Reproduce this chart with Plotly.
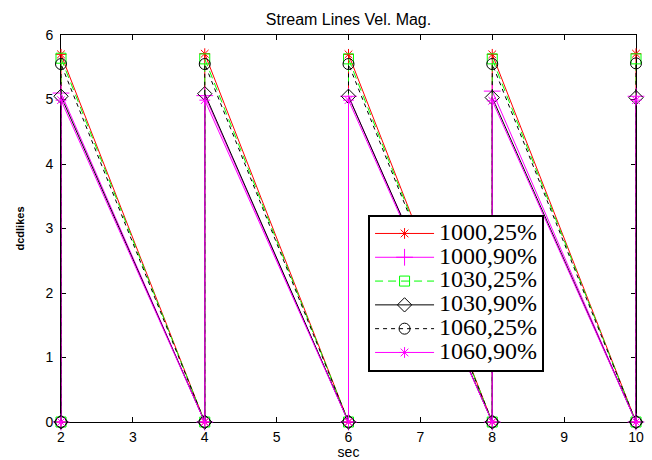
import plotly.graph_objects as go

# Sample times: each cycle drops back to zero and jumps to the peak value
times = [2, 2, 4, 4, 6, 6, 8, 8, 10, 10]

series_names = ["1000,25%", "1000,90%", "1030,25%", "1030,90%", "1060,25%", "1060,90%"]

# Peak value reached at t = 2, 4, 6, 8, 10 for each case
peaks_1000_25 = [5.70, 5.71, 5.70, 5.70, 5.71]
peaks_1000_90 = [5.10, 5.06, 5.05, 5.13, 5.05]
peaks_1030_25 = [5.64, 5.63, 5.63, 5.63, 5.63]
peaks_1030_90 = [5.05, 5.09, 5.05, 5.03, 5.03]
peaks_1060_25 = [5.55, 5.55, 5.55, 5.55, 5.56]
peaks_1060_90 = [4.99, 4.99, 4.99, 4.98, 4.99]

all_peaks = [peaks_1000_25, peaks_1000_90, peaks_1030_25,
             peaks_1030_90, peaks_1060_25, peaks_1060_90]

colors = ["#ff0000", "#ff00ff", "#00ff00", "#000000", "#000000", "#ff00ff"]
dashes = ["solid", "solid", "8px,5px", "solid", "4px,4px", "solid"]
symbols = ["asterisk-open", "cross-thin-open", "square-open",
           "diamond-open", "circle-open", "asterisk-open"]
marker_sizes = [9, 12, 10, 11, 11, 9]


def sawtooth(peaks):
    vals = []
    for p in peaks:
        vals.extend([0.0, p])
    return vals


fig = go.Figure()
for name, peaks, col, dash, sym, ms in zip(series_names, all_peaks, colors,
                                           dashes, symbols, marker_sizes):
    fig.add_trace(go.Scatter(
        x=times, y=sawtooth(peaks), name=f'<span style="font-size:24px">{name}</span>',
        mode="lines+markers",
        line=dict(color=col, width=1, dash=dash),
        marker=dict(symbol=sym, size=ms, color=col, line=dict(color=col, width=1)),
        cliponaxis=False,
    ))

axis_common = dict(
    showgrid=False, zeroline=False, showline=True, linecolor="black", linewidth=1,
    mirror="ticks", ticks="inside", ticklen=5, tickcolor="black", tickwidth=1,
    tickfont=dict(family="Liberation Sans", size=14, color="black"),
    layer="below traces", automargin=False,
)

fig.update_layout(
    width=652, height=460,
    paper_bgcolor="white", plot_bgcolor="white",
    margin=dict(l=61, r=16, t=35, b=38),
    title=dict(text="Stream Lines Vel. Mag.", x=0.5345, xanchor="center",
               y=0.958, yanchor="middle",
               font=dict(family="Liberation Sans", size=16, color="black")),
    xaxis=dict(range=[2, 10], dtick=1, tick0=2, ticklabelstandoff=2,
               title=dict(text="sec", standoff=3,
                          font=dict(family="Liberation Sans", size=14, color="black")),
               **axis_common),
    yaxis=dict(range=[0, 6], dtick=1, tick0=0, ticklabelstandoff=4,
               title=dict(text="<b>dcdlikes</b>", standoff=18,
                          font=dict(family="Liberation Sans", size=11, color="black")),
               **axis_common),
    legend=dict(x=0.534, y=0.536, xanchor="left", yanchor="top",
                bgcolor="white", bordercolor="black", borderwidth=2,
                font=dict(family="Liberation Serif", size=16, color="black"),
                tracegroupgap=0, itemwidth=59),
    showlegend=True,
)

fig.write_html("out.html")
